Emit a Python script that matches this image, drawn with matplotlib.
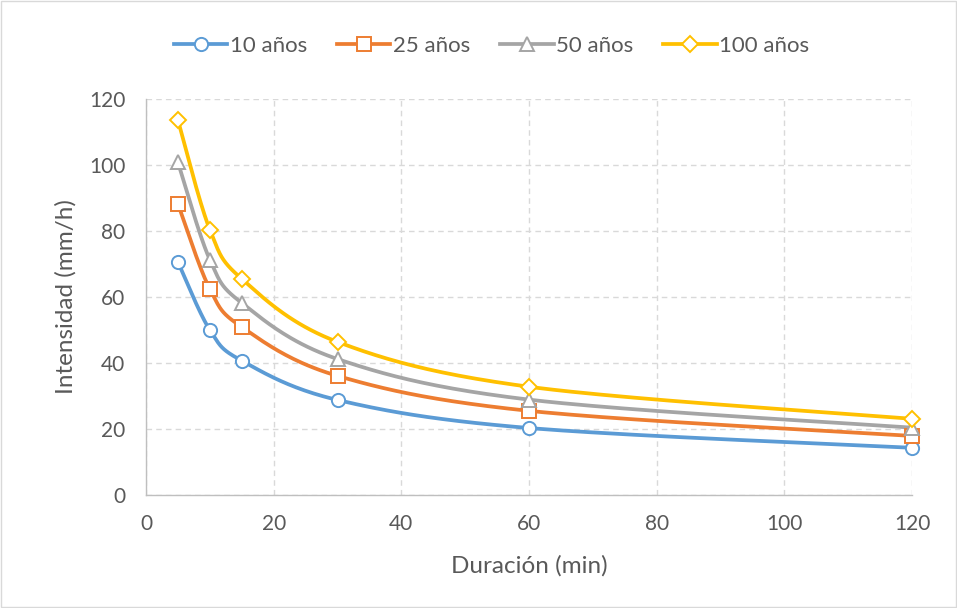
import numpy as np
import matplotlib.pyplot as plt
from matplotlib.patches import Rectangle

# ============================================================
# DATA
# ============================================================
duracion = [5, 10, 15, 30, 60, 120]
i_10 = [70.6, 50.0, 40.7, 28.8, 20.3, 14.3]
i_25 = [88.2, 62.4, 50.9, 36.1, 25.5, 17.9]
i_50 = [100.8, 71.3, 58.2, 41.2, 28.9, 20.4]
i_100 = [113.6, 80.4, 65.5, 46.4, 32.8, 23.1]
series_labels = ["10 años", "25 años", "50 años", "100 años"]

colors = ["#5B9BD5", "#ED7D31", "#A5A5A5", "#FFC000"]
markers = ["o", "s", "^", "D"]
msizes = [9.5, 9.5, 9.5, 8]
txt = "#595959"

plt.rcParams["font.family"] = ["Lato", "DejaVu Sans"]


def smooth(x, y, n=40):
    # Excel-like smoothed line: Catmull-Rom converted to cubic Bezier
    x = np.asarray(x, float)
    y = np.asarray(y, float)
    P = np.column_stack([x, y])
    out = []
    t = np.linspace(0, 1, n)
    for i in range(len(P) - 1):
        p0 = P[i - 1] if i > 0 else P[i]
        p1 = P[i]
        p2 = P[i + 1]
        p3 = P[i + 2] if i + 2 < len(P) else P[i + 1]
        c1 = p1 + (p2 - p0) / 6.0
        c2 = p2 - (p3 - p1) / 6.0
        tt = t[:, None]
        seg = ((1 - tt) ** 3 * p1 + 3 * (1 - tt) ** 2 * tt * c1
               + 3 * (1 - tt) * tt ** 2 * c2 + tt ** 3 * p2)
        out.append(seg if i == 0 else seg[1:])
    out = np.vstack(out)
    return out[:, 0], out[:, 1]


fig = plt.figure(figsize=(9.57, 6.08), dpi=100)
ax = fig.add_axes([146 / 957, 1 - 495 / 608, (912 - 146) / 957, (495 - 99) / 608])
fig.patches.append(Rectangle((0.001, 0.001), 0.998, 0.998, transform=fig.transFigure,
                             fill=False, edgecolor="#D9D9D9", linewidth=1))

handles = []
for vals, lab, c, m, ms in zip([i_10, i_25, i_50, i_100], series_labels, colors, markers, msizes):
    sx, sy = smooth(duracion, vals)
    ax.plot(sx, sy, color=c, linewidth=2.7, zorder=3, solid_capstyle="round", clip_on=False)
    ax.plot(duracion, vals, linestyle="none", marker=m, markersize=ms, clip_on=False,
            markerfacecolor="white", markeredgecolor=c, markeredgewidth=1.4, zorder=4)
    h, = ax.plot([], [], color=c, linewidth=2.7, marker=m, markersize=ms,
                 markerfacecolor="white", markeredgecolor=c, markeredgewidth=1.4)
    handles.append(h)

ax.set_xlim(0, 120)
ax.set_ylim(0, 120)
ax.set_xticks(range(0, 121, 20))
ax.set_yticks(range(0, 121, 20))
ax.grid(True, color="#D9D9D9", linestyle=(0, (4, 3)), linewidth=1)
ax.set_axisbelow(True)
for s in ["top", "right"]:
    ax.spines[s].set_visible(False)
for s in ["left", "bottom"]:
    ax.spines[s].set_color("#BFBFBF")
    ax.spines[s].set_linewidth(1)
ax.tick_params(length=0, labelsize=15, colors=txt)
ax.tick_params(axis="y", pad=15)
ax.tick_params(axis="x", pad=14)
ax.set_xlabel("Duración (min)", fontsize=17.5, color=txt, labelpad=15)
ax.set_ylabel("Intensidad (mm/h)", fontsize=17.5, color=txt, labelpad=9)

fig.legend(handles, series_labels, loc="center", bbox_to_anchor=(0.5136, 1 - 46 / 608),
           ncol=4, frameon=False, fontsize=16, handlelength=2.4, columnspacing=1.36,
           handletextpad=0.1, labelcolor=txt)

fig.savefig("out.png", dpi=100)
